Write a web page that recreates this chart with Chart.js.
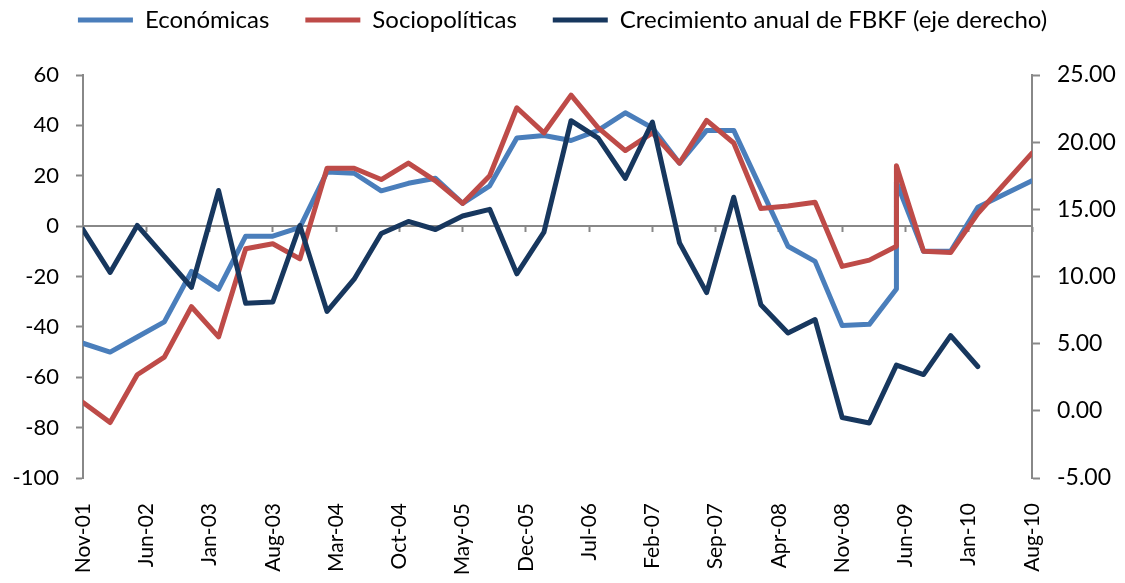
<!DOCTYPE html>
<html><head><meta charset="utf-8">
<script src="https://cdn.jsdelivr.net/npm/chart.js@4.4.1/dist/chart.umd.min.js"></script>
<style>html,body{margin:0;padding:0;background:#fff;}#wrap{width:1125px;height:583px;}</style>
</head><body><div id="wrap"><canvas id="c" width="1125" height="583"></canvas></div>
<script>
// months since Nov-2001
const meses = [0,3,6,9,12,15,18,21,24,27,30,33,36,39,42,45,48,51,54,57,60,63,66,69,72,75,78,81,84,87,90,90,93,96,99,105];
const economicas = [-46.5,-50,-44,-38,-18,-25,-4,-4,-0.5,21.5,21,14,17,19,9,16,35,36,34,38,45,39,25,38,38,15,-8,-14,-39.5,-39,-25,17.5,-10,-10,7.5,18];
const sociopoliticas = [-70,-78,-59,-52,-32,-44,-9,-7,-13,23,23,18.5,25,18,9,20,47,37,52,39,30,37,25,42,33,7,8,9.5,-16,-13.5,-8,24,-10,-10.5,5,29];
const fbkf = [13.5,10.3,13.8,11.5,9.2,16.4,8.0,8.1,13.8,7.4,9.8,13.2,14.1,13.5,14.5,15.0,10.2,13.3,21.6,20.3,17.3,21.5,12.5,8.8,15.9,7.9,5.8,6.8,-0.5,-0.9,3.4,null,2.7,5.6,3.3,null];
const etiquetasX = ['Nov-01','Jun-02','Jan-03','Aug-03','Mar-04','Oct-04','May-05','Dec-05','Jul-06','Feb-07','Sep-07','Apr-08','Nov-08','Jun-09','Jan-10','Aug-10'];
const nombres = ['Económicas','Sociopolíticas','Crecimiento anual de FBKF (eje derecho)'];

const FONT = 'Lato';
const AX = '#888888';
const pts = arr => meses.map((m,i)=>({x:m,y:arr[i]}));

new Chart(document.getElementById('c'), {
  type: 'line',
  data: { datasets: [
    {label:nombres[0], data:pts(economicas), borderColor:'#4A7EBB', backgroundColor:'#4A7EBB', yAxisID:'y', order:3},
    {label:nombres[1], data:pts(sociopoliticas), borderColor:'#BE4B48', backgroundColor:'#BE4B48', yAxisID:'y', order:2},
    {label:nombres[2], data:pts(fbkf), borderColor:'#17375E', backgroundColor:'#17375E', yAxisID:'y1', order:1}
  ]},
  options: {
    responsive:false, animation:false, devicePixelRatio:1,
    layout:{padding:{top:-28,left:0,right:0,bottom:0}},
    elements:{ line:{borderWidth:5, tension:0, borderJoinStyle:'round', borderCapStyle:'round'}, point:{radius:0, hoverRadius:0} },
    spanGaps:true,
    plugins:{
      tooltip:{enabled:false},
      title:{ display:true, text:'', position:'top', weight:500, font:{size:1}, padding:{top:0, bottom:31.8} },
      legend:{ position:'top', align:'center',
        labels:{ font:{family:FONT, size:24}, color:'#000', boxWidth:55, boxHeight:5, padding:36,
          generateLabels:(chart)=>chart.data.datasets.map((d,i)=>({text:d.label, fillStyle:d.borderColor, strokeStyle:d.borderColor, lineWidth:0, hidden:false, datasetIndex:i}))
        }
      }
    },
    scales:{
      x:{ type:'linear', position:'bottom', min:0, max:105,
        grid:{display:false, drawTicks:false}, border:{display:false},
        ticks:{stepSize:7, autoSkip:false, maxRotation:90, minRotation:90, padding:25, color:'#000', font:{family:FONT, size:21},
          callback:(v)=>etiquetasX[Math.round(v/7)] },
        afterFit:(s)=>{ s.height = 105; }
      },
      x0:{ type:'linear', axis:'x', position:{y:0}, min:0, max:105,
        ticks:{display:false, stepSize:7, autoSkip:false},
        grid:{drawOnChartArea:false, drawTicks:true, tickLength:5, tickColor:AX, tickWidth:2},
        border:{color:AX, width:2}
      },
      y:{ type:'linear', position:'left', min:-100, max:60,
        ticks:{stepSize:20, padding:17, color:'#000', font:{family:FONT, size:22}},
        grid:{drawOnChartArea:false, tickLength:7, tickColor:AX, tickWidth:2},
        border:{color:AX, width:2},
        afterFit:(s)=>{ s.width = 83; }
      },
      y1:{ type:'linear', position:'right', min:-5, max:25,
        ticks:{stepSize:5, padding:17, color:'#000', font:{family:FONT, size:23}, callback:(v)=>v.toFixed(2)},
        grid:{drawOnChartArea:false, tickLength:8, tickColor:AX, tickWidth:2},
        border:{color:AX, width:2},
        afterFit:(s)=>{ s.width = 93; }
      }
    }
  }
});
</script></body></html>
